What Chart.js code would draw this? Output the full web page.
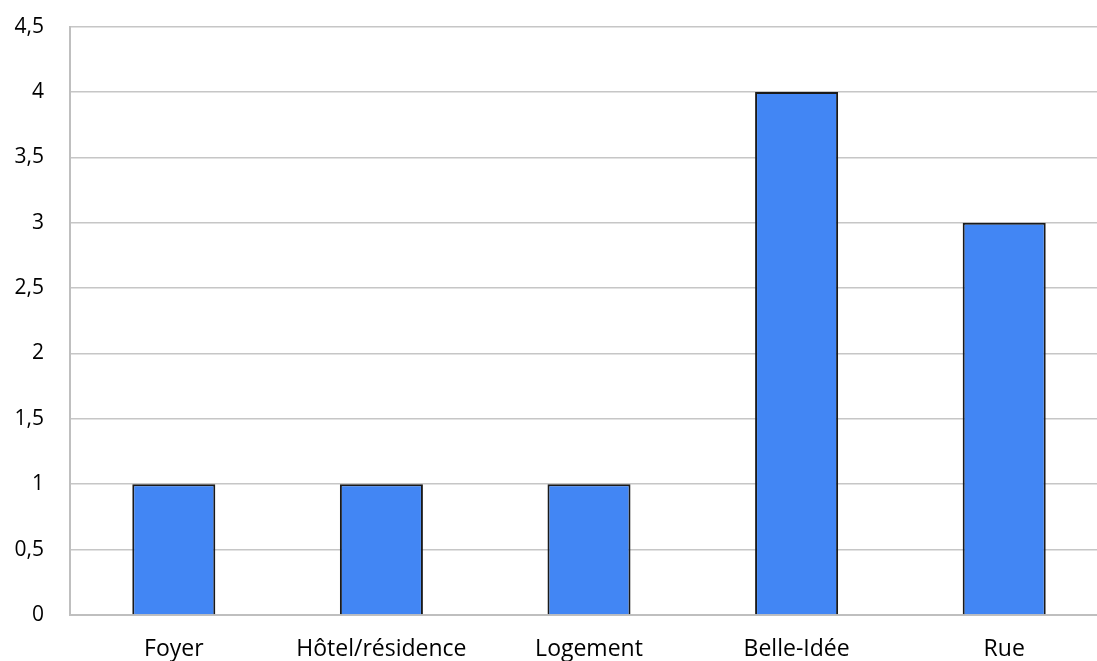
<!DOCTYPE html>
<html>
<head>
<meta charset="utf-8">
<script src="https://cdn.jsdelivr.net/npm/chart.js@4"></script>
<style>
  html, body { margin: 0; padding: 0; background: #fff; overflow: hidden; }
  #wrap { position: absolute; left: 0; top: -12px; width: 1108px; height: 673px; }
</style>
</head>
<body>
<div id="wrap"><canvas id="c" width="1108" height="673"></canvas></div>
<script>
const categories = ['Foyer', 'Hôtel/résidence', 'Logement', 'Belle-Idée', 'Rue'];
const values = [1, 1, 1, 4, 3];
const yTicks = [0, 0.5, 1, 1.5, 2, 2.5, 3, 3.5, 4, 4.5];

const Y_FONT = { family: '"Open Sans", Lato, sans-serif', size: 21 };
const X_FONT = { family: '"Open Sans", Lato, sans-serif', size: 23 };

new Chart(document.getElementById('c'), {
  type: 'bar',
  data: {
    labels: categories,
    datasets: [{
      data: values,
      backgroundColor: '#4286f4',
      borderColor: '#1a1a1a',
      borderWidth: { top: 2, left: 2, right: 2, bottom: 0 },
      borderSkipped: false,
      categoryPercentage: 1,
      barPercentage: 0.4
    }]
  },
  options: {
    responsive: false,
    animation: false,
    events: [],
    layout: { padding: { top: 14, right: 0, bottom: 0, left: 0 } },
    plugins: { legend: { display: false }, tooltip: { enabled: false } },
    scales: {
      x: {
        grid: { display: false },
        border: { display: true, color: '#bfbfbf', width: 2 },
        ticks: { color: '#000', font: X_FONT, padding: 13, maxRotation: 0, autoSkip: false },
        afterFit: s => { s.height = 46; }
      },
      y: {
        min: 0, max: 4.5,
        afterBuildTicks: s => { s.ticks = yTicks.map(v => ({ value: v })); },
        grid: { color: '#c6c6c6', lineWidth: 1.5, drawTicks: false },
        border: { display: true, color: '#bfbfbf', width: 2 },
        ticks: {
          color: '#000', font: Y_FONT, padding: 26,
          callback: v => String(v).replace('.', ',')
        },
        afterFit: s => { s.width = 70; }
      }
    }
  }
});
</script>
</body>
</html>
